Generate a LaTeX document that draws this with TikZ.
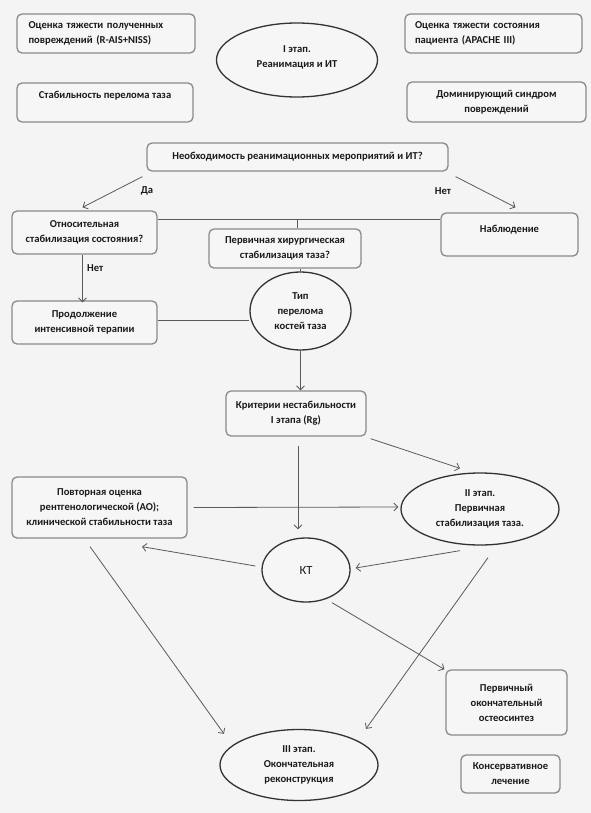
\documentclass[tikz,border=0pt]{standalone}
\usepackage{fontspec}
\setmainfont{Carlito}
\usetikzlibrary{arrows.meta,shapes.geometric,calc}
\definecolor{bg}{HTML}{F4F4F4}
\definecolor{boxfill}{HTML}{F6F6F6}
\definecolor{boxc}{HTML}{8A8A8A}
\definecolor{ellc}{HTML}{333333}
\definecolor{linec}{HTML}{5A5A5A}
\definecolor{txt}{HTML}{1A1A1A}
\begin{document}
\begin{tikzpicture}[x=1pt,y=-1pt,
  txtf/.style={font=\fontsize{10.6}{15}\selectfont\bfseries, text=txt},
  box/.style 2 args={draw=boxc, line width=1.3pt, rounded corners=5pt, fill=boxfill,
    inner sep=0pt, align=center, txtf, minimum width=#1, minimum height=#2},
  ell/.style 2 args={ellipse, draw=ellc, line width=1.3pt, fill=boxfill,
    inner sep=0pt, align=center, txtf, minimum width=#1, minimum height=#2},
  lbl/.style={txtf, inner sep=0pt},
  ln/.style={draw=linec, line width=0.8pt},
  arr/.style={draw=linec, line width=0.8pt, -{Straight Barb[length=4pt,width=8pt]}}
]
\fill[bg] (0,0) rectangle (591,813);
\useasboundingbox (0,0) rectangle (591,813);

% top row
\node[box={178pt}{39pt}, align=left, text width=155pt] (b1) at (106,33.5)
  {Оценка тяжести полученных\\повреждений (R-AIS+NISS)};
\node[box={176pt}{39pt}] (b2) at (105,102.5) {Стабильность перелома таза\\~};
\node[ell={161pt}{74pt}] (e1) at (297,60) {I этап.\\Реанимация и ИТ\\[-8pt]~};
\node[box={177pt}{39pt}, align=left, text width=157pt] (b3) at (493.5,33.5)
  {Оценка тяжести состояния\\пациента (APACHE III)};
\node[box={179pt}{40pt}] (b4) at (496.5,102) {Доминирующий синдром\\повреждений};

% decision
\node[box={301pt}{28pt}] (b5) at (297.5,157) {Необходимость реанимационных мероприятий и ИТ?};
\node[box={145pt}{43pt}] (b6) at (84.5,232.5) {Относительная\\стабилизация состояния?};
\node[box={137pt}{43pt}] (b7) at (509.5,234.5) {Наблюдение\\[-4pt]~};
\node[box={152pt}{39pt}] (b8) at (285,248.5) {Первичная хирургическая\\стабилизация таза?};
\node[lbl] (lda) at (147,191) {Да};
\node[lbl] (lnet1) at (443,191) {Нет};
\node[lbl, anchor=west] (lnet2) at (87,268) {Нет};

\node[ell={101pt}{78pt}] (c1) at (300.5,311) {Тип\\перелома\\костей таза};
\node[box={145pt}{43pt}] (b9) at (84.5,322.5) {Продолжение\\интенсивной терапии};
\node[box={140pt}{45pt}] (b10) at (296,413.5) {Критерии нестабильности\\I этапа (Rg)};

\node[box={175pt}{61pt}] (b11) at (99.5,507.5)
  {Повторная оценка\\рентгенологической (АО);\\клинической стабильности таза};
\node[ell={158pt}{72pt}] (e2) at (480,509) {II этап.\\Первичная\\стабилизация таза.};
\node[ell={88pt}{64pt}, font=\fontsize{12.5}{15}\selectfont] (c2) at (306,570) {КТ};
\node[box={121pt}{65pt}] (b12) at (506.5,702.5) {Первичный\\окончательный\\остеосинтез};
\node[ell={158pt}{71pt}] (e3) at (299,765) {III этап.\\Окончательная\\реконструкция};
\node[box={99pt}{38pt}] (b13) at (510.5,774) {Консервативное\\лечение};

% connectors
\draw[arr] ([shift={(-4,5)}]b5.south west) -- ([shift={(-2,-3)}]b6.north);
\draw[arr] ([shift={(7,5)}]b5.south east) -- ([shift={(6,-5)}]b7.north);
\coordinate (j) at (297,219);
\draw[ln] (j -| b6.east) -- (j -| b7.west);
\draw[ln] (j) -- (j |- b8.north);
\draw[arr] ([xshift=-2]b6.south) -- ([xshift=-2,yshift=-2]b9.north);
\draw[ln] (b8.south -| c1.north) -- (c1.north);
\draw[ln] ([yshift=2]b9.east) -- ([yshift=2]b9.east -| c1.west);
\draw[arr] (c1.south) -- (c1.south |- b10.north);
\draw[arr] ([shift={(4,2)}]b10.south east) -- ([shift={(-20,-4)}]e2.north);
\draw[arr] ([shift={(2,9)}]b10.south) -- ([shift={(-8,-8)}]c2.north);
\draw[arr] ([xshift=6]b11.east) -- ([shift={(-2,-2)}]e2.west);
\draw[arr] ([shift={(-6,-4)}]c2.west) -- ([shift={(42.5,8)}]b11.south);
\draw[arr] ([shift={(-20,5)}]e2.south) -- ([shift={(5,-2)}]c2.east);
\draw[arr] ([shift={(-9.5,8)}]b11.south) -- ([shift={(-75,5)}]e3.north);
\draw[arr] ([shift={(8,12)}]e2.south) -- ([shift={(67,0)}]e3.north);
\draw[arr] ([shift={(26,0)}]c2.south) -- ([shift={(-1,0)}]b12.north west);
\end{tikzpicture}
\end{document}
